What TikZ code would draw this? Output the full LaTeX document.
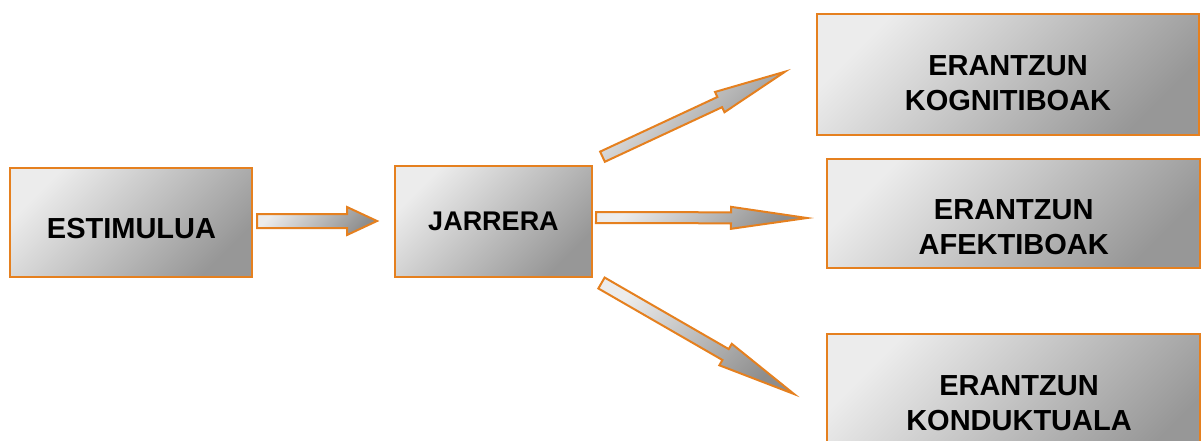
\documentclass[tikz,border=0pt]{standalone}
\usepackage{fontspec}
\setmainfont{Liberation Sans}
\usetikzlibrary{calc}
\definecolor{edgeorange}{HTML}{E5801F}
\definecolor{lightfill}{HTML}{ECECEC}
\definecolor{darkfill}{HTML}{979797}
\tikzset{
  boxnode/.style={draw=edgeorange, line width=2.2pt, inner sep=0pt,
    top color=lightfill, bottom color=darkfill, shading angle=45},
  lbl/.style={font=\bfseries\fontsize{29pt}{35pt}\selectfont, align=center, inner sep=0pt, anchor=north},
  arrowshape/.style={draw=edgeorange, line width=2pt, line join=miter,
    top color=lightfill, bottom color=darkfill!110, shading angle=45}
}
\newcommand{\blockarrow}[6]{% #1 name, #2 from, #3 to, #4 half shaft, #5 half head, #6 head length
  \coordinate (#1h) at ($(#3)!#6pt!(#2)$);
  \path[arrowshape] ($(#2)!#4pt!90:(#3)$) -- ($(#1h)!#4pt!-90:(#2)$) -- ($(#1h)!#5pt!-90:(#2)$)
    -- (#3) -- ($(#1h)!#5pt!90:(#2)$) -- ($(#1h)!#4pt!90:(#2)$) -- ($(#2)!#4pt!-90:(#3)$) -- cycle;
}
\begin{document}
\begin{tikzpicture}[x=1pt,y=-1pt]
\useasboundingbox (0,0) rectangle (1201,440);
% boxes
\node[boxnode, minimum width=242pt, minimum height=109pt] (est) at (131,222.5) {};
\node[boxnode, minimum width=197pt, minimum height=111pt] (jar) at (493.5,221.5) {};
\node[boxnode, minimum width=382pt, minimum height=121pt] (kog) at (1008,74.5) {};
\node[boxnode, minimum width=373pt, minimum height=109pt] (afe) at (1013.5,213.5) {};
\node[boxnode, minimum width=373pt, minimum height=140pt] (kon) at (1013.5,404) {};
% labels
\node[lbl] (estT) at (131.5,218) {ESTIMULUA};
\node[lbl, font=\bfseries\fontsize{27pt}{33pt}\selectfont] (jarT) at (493.5,212) {JARRERA};
\node[lbl] (kogT) at (1008,55) {ERANTZUN\\KOGNITIBOAK};
\node[lbl] (afeT) at (1013.7,199) {ERANTZUN\\AFEKTIBOAK};
\node[lbl] (konT) at (1019,375) {ERANTZUN\\KONDUKTUALA};
% arrow end points
\coordinate (a1s) at (257,221);
\coordinate (a1e) at (377,221);
\coordinate (a2s) at (596,217.5);
\coordinate (a2e) at (807,218);
\coordinate (a3s) at (602.5,156.7);
\coordinate (a3e) at (785,71.7);
\coordinate (a4s) at (601.5,283);
\coordinate (a4e) at (794,394);
\blockarrow{a1}{a1s}{a1e}{7}{14}{30}
\blockarrow{a2}{a2s}{a2e}{5.5}{11}{76}
\blockarrow{a3}{a3s}{a3e}{5.6}{11.2}{72}
\blockarrow{a4}{a4s}{a4e}{6.3}{12.4}{79}
\end{tikzpicture}
\end{document}
